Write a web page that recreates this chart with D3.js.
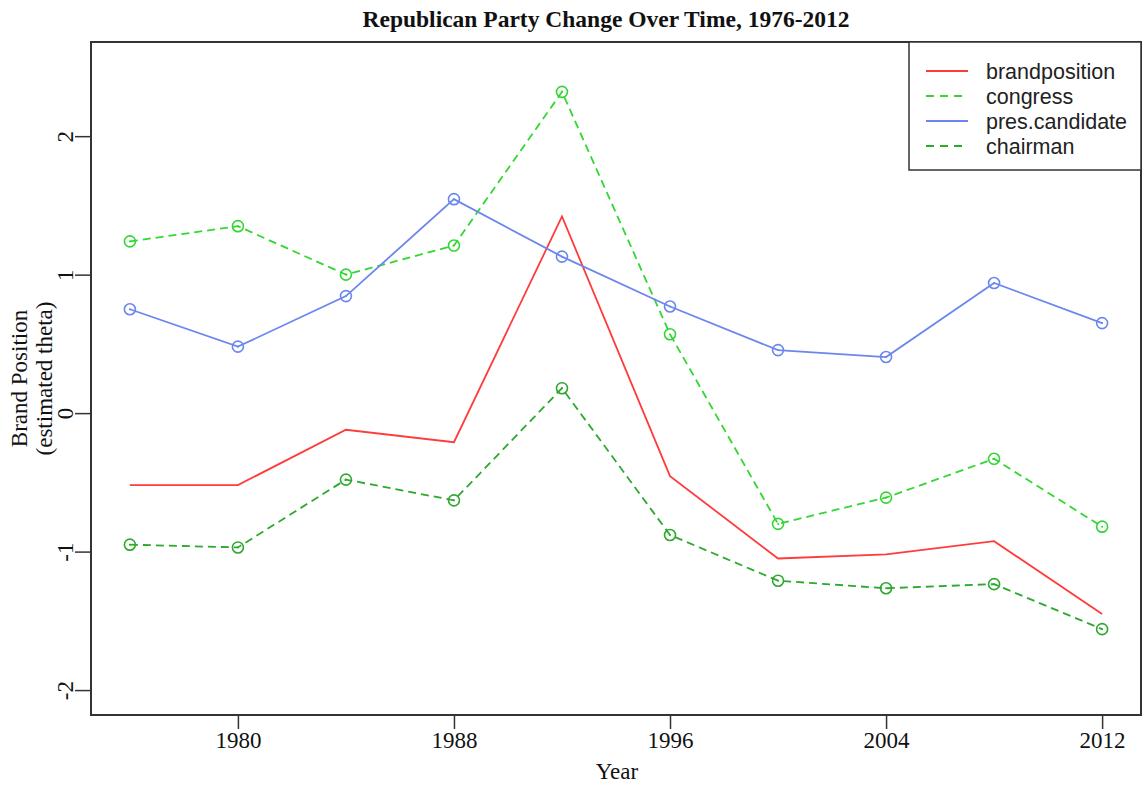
<!DOCTYPE html>
<html>
<head>
<meta charset="utf-8">
<script src="https://cdnjs.cloudflare.com/ajax/libs/d3/7.8.5/d3.min.js"></script>
<style>
  body { margin: 0; background: #fff; }
  svg { display: block; }
</style>
</head>
<body>
<svg id="chart"></svg>
<script>
// data
const years = [1976, 1980, 1984, 1988, 1992, 1996, 2000, 2004, 2008, 2012]
const brandposition = [-0.52, -0.52, -0.12, -0.21, 1.42, -0.455, -1.05, -1.02, -0.925, -1.45]
const congress = [1.24, 1.35, 1.0, 1.21, 2.32, 0.57, -0.80, -0.61, -0.33, -0.82]
const presCandidate = [0.75, 0.48, 0.845, 1.545, 1.13, 0.77, 0.455, 0.405, 0.94, 0.65]
const chairman = [-0.95, -0.97, -0.48, -0.63, 0.18, -0.88, -1.21, -1.265, -1.235, -1.56]
const xTicks = [1980, 1988, 1996, 2004, 2012]
const yTicks = [-2, -1, 0, 1, 2]

const series = [
  { name: "brandposition", values: brandposition, color: "#ff3b3b", dash: null, points: false },
  { name: "congress", values: congress, color: "#33d633", dash: "8,5", points: true },
  { name: "pres.candidate", values: presCandidate, color: "#6b86ee", dash: null, points: true },
  { name: "chairman", values: chairman, color: "#2ea82e", dash: "8,5", points: true }
]

const W = 1144, H = 785
const margin = { top: 42, right: 3, bottom: 70, left: 91 }
const width = W - margin.left - margin.right
const height = H - margin.top - margin.bottom

const svg = d3.select("#chart").attr("width", W).attr("height", H)
const serif = "'Liberation Serif', 'Times New Roman', serif"
const sans = "'Liberation Sans', Arial, sans-serif"

// R-style 4% padding around the limits
const xScale = d3.scaleLinear().domain([1974.56, 2013.44]).range([0, width])
const yScale = d3.scaleLinear().domain([-2.18, 2.68]).range([height, 0])

const g = svg.append("g").attr("transform", `translate(${margin.left},${margin.top})`)

const line = d3.line()
  .x((d, i) => xScale(years[i]))
  .y(d => yScale(d))

series.forEach(s => {
  g.append("path")
    .attr("d", line(s.values))
    .attr("fill", "none")
    .attr("stroke", s.color)
    .attr("stroke-width", 1.8)
    .attr("stroke-dasharray", s.dash)
  if (s.points) {
    const pts = g.append("g").selectAll("g")
      .data(s.values)
      .enter().append("g")
        .attr("transform", (d, i) => `translate(${xScale(years[i])},${yScale(d)})`)
    pts.append("circle").attr("r", 5.5)
      .attr("fill", "none").attr("stroke", s.color).attr("stroke-width", 1.6)
    pts.append("circle").attr("r", 1).attr("fill", s.color)
  }
})

// axes
const xAxis = g.append("g")
  .attr("transform", `translate(0,${height})`)
  .call(d3.axisBottom(xScale).tickValues(xTicks).tickFormat(d => String(d)).tickSize(14).tickPadding(3))
xAxis.select(".domain").remove()
xAxis.selectAll("line").attr("stroke", "#333").attr("stroke-width", 1.5)
xAxis.selectAll("text").attr("font-family", serif).attr("font-size", 23).attr("fill", "#111")

const yAxis = g.append("g")
  .call(d3.axisLeft(yScale).tickValues(yTicks).tickSize(16).tickFormat(d => String(d)))
yAxis.select(".domain").remove()
yAxis.selectAll("line").attr("stroke", "#333").attr("stroke-width", 1.5)
yAxis.selectAll("text")
  .attr("font-family", serif).attr("font-size", 23).attr("fill", "#111")
  .attr("x", null).attr("dy", null)
  .attr("text-anchor", "middle")
  .attr("transform", "translate(-18,0) rotate(-90)")

// box
g.append("rect")
  .attr("width", width).attr("height", height)
  .attr("fill", "none").attr("stroke", "#333").attr("stroke-width", 2)

// title and axis labels
svg.append("text")
  .attr("x", 606).attr("y", 27)
  .attr("text-anchor", "middle")
  .attr("font-family", serif).attr("font-weight", "bold").attr("font-size", 23.5)
  .attr("fill", "#111")
  .text("Republican Party Change Over Time, 1976-2012")

svg.append("text")
  .attr("x", 617).attr("y", 779)
  .attr("text-anchor", "middle")
  .attr("font-family", serif).attr("font-size", 23).attr("fill", "#111")
  .text("Year")

const yLab = svg.append("text")
  .attr("transform", `translate(0,${margin.top + height / 2}) rotate(-90)`)
  .attr("text-anchor", "middle")
  .attr("font-family", serif).attr("font-size", 23).attr("fill", "#111")
yLab.append("tspan").attr("x", 0).attr("y", 27).text("Brand Position")
yLab.append("tspan").attr("x", 0).attr("y", 52).text("(estimated theta)")

// legend
const lx = 909, ly = 42, lw = 232, lh = 128
const legend = svg.append("g")
legend.append("rect")
  .attr("x", lx).attr("y", ly).attr("width", lw).attr("height", lh)
  .attr("fill", "#fff").attr("stroke", "#333").attr("stroke-width", 1.5)
series.forEach((s, i) => {
  const yy = ly + 29 + i * 25
  legend.append("line")
    .attr("x1", lx + 17).attr("x2", lx + 59).attr("y1", yy).attr("y2", yy)
    .attr("stroke", s.color).attr("stroke-width", 2)
    .attr("stroke-dasharray", s.dash ? "8,6" : null)
  legend.append("text")
    .attr("x", lx + 77).attr("y", yy).attr("dy", "0.35em")
    .attr("font-family", sans).attr("font-size", 21.5).attr("fill", "#222")
    .text(s.name)
})
</script>
</body>
</html>
